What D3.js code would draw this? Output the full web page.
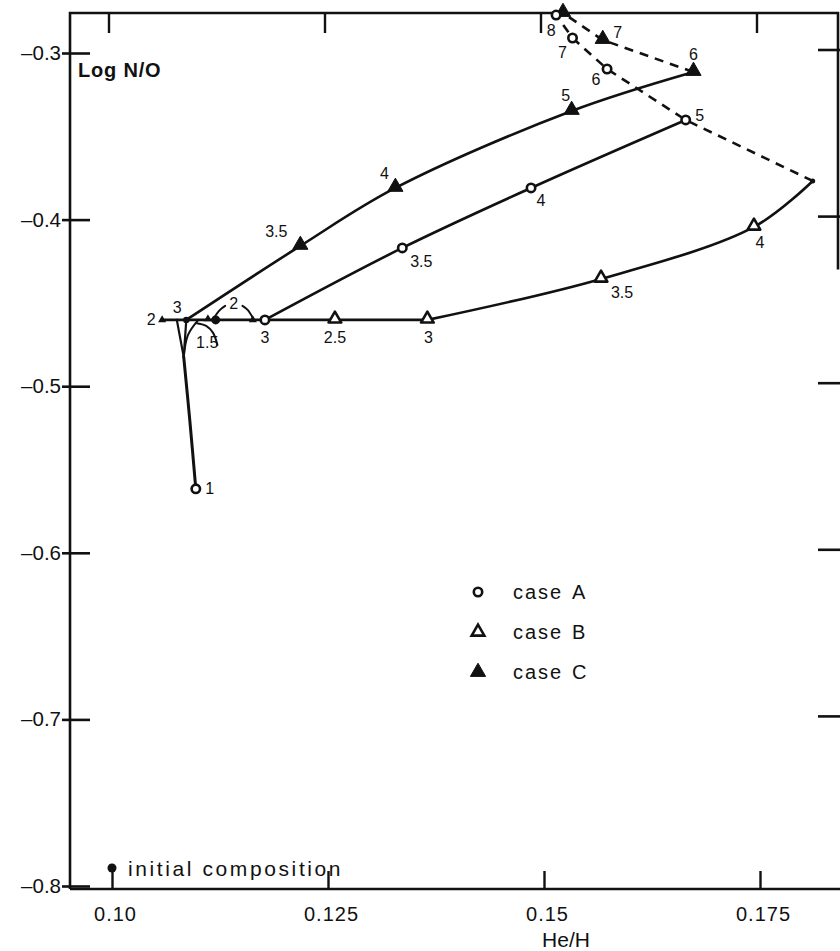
<!DOCTYPE html>
<html>
<head>
<meta charset="utf-8">
<script src="https://cdn.jsdelivr.net/npm/d3@7"></script>
<style>
  body { margin: 0; background: #fff; }
  svg { display: block; font-family: "Liberation Sans", Arial, sans-serif; }
</style>
</head>
<body>
<svg id="chart" width="840" height="951"></svg>
<script>
// tick labels
const xTicks = [0.10, 0.125, 0.15, 0.175];
const xTickLabels = ["0.10", "0.125", "0.15", "0.175"];
const yTicks = [-0.3, -0.4, -0.5, -0.6, -0.7, -0.8];

// [mass label, He/H, log N/O]
const caseA = [["3", 0.1177, -0.4602], ["3.5", 0.1336, -0.4170], ["4", 0.1485, -0.3810], ["5", 0.1664, -0.3402]];
const caseAExt = [["6", 0.1573, -0.3096], ["7", 0.1533, -0.2910], ["8", 0.1514, -0.2772]];
const caseA1 = ["1", 0.1097, -0.5616];
const caseB = [["2.5", 0.1258, -0.4602], ["3", 0.1365, -0.4602], ["3.5", 0.1566, -0.4356], ["4", 0.1743, -0.4044]];
const caseBEnd = [0.1811, -0.3768];
const caseC = [["3.5", 0.1218, -0.4158], ["4", 0.1328, -0.3810], ["5", 0.1532, -0.3348], ["6", 0.1673, -0.3114]];
const caseCExt = [["7", 0.1568, -0.2922], ["8", 0.1522, -0.2760]];
const junction = [0.1086, -0.4602];
const mass2Points = [[0.1058, -0.4602], [0.1111, -0.4596], [0.1163, -0.4602]];
const initialComp = [0.1120, -0.4602];

// tracks near the origin of the curves
const stemA = [[0.1097, -0.5616], [0.1090, -0.5202], [0.1083, -0.4824]];
const vLeft = [[0.1083, -0.4824], [0.1075, -0.4602]];
const vMid = [[0.1083, -0.4824], [0.1086, -0.4602]];
const vRight = [[0.1083, -0.4824], [0.1088, -0.4692], [0.1100, -0.4602]];
const arc15 = [[0.1097, -0.4620], [0.1109, -0.4638], [0.1117, -0.4680], [0.1122, -0.4752]];
const arc2Left = [[0.1118, -0.4590], [0.1125, -0.4542], [0.1131, -0.4518]];
const arc2Right = [[0.1151, -0.4518], [0.1157, -0.4542], [0.1163, -0.4590]];

const legendItems = ["A", "B", "C"];

const svg = d3.select("#chart");
const x = d3.scaleLinear().domain([0.10, 0.175]).range([112, 760]);
const y = d3.scaleLinear().domain([-0.3, -0.8]).range([53, 886]);

const xLeft = x.invert(70), xRight = x.invert(838);
const yTop = y.invert(13), yBottom = y.invert(889);

const ink = "#111";

// frame
const frame = svg.append("g").attr("stroke", ink).attr("stroke-width", 2.6).attr("fill", "none");
frame.append("path").attr("d", `M${x(xLeft)},${y(yBottom)}V${y(yTop)}H${x(xRight)}V${y(-0.43)}`);
frame.append("line").attr("x1", x(xLeft)).attr("x2", 840).attr("y1", y(yBottom)).attr("y2", y(yBottom));

// left axis
svg.append("g")
  .attr("transform", `translate(${x(xLeft)},0)`)
  .call(d3.axisLeft(y).tickValues(yTicks).tickSize(0).tickPadding(9)
    .tickFormat(d => "\u2013" + Math.abs(d).toFixed(1)))
  .call(g => g.select(".domain").remove())
  .call(g => g.selectAll(".tick line").attr("x1", -8).attr("x2", 20)
    .attr("stroke", ink).attr("stroke-width", 2.6))
  .call(g => g.selectAll(".tick text").attr("font-size", 20.5).attr("fill", ink)
    .attr("font-family", "Liberation Sans, Arial, sans-serif"));

// right ticks
svg.append("g").selectAll("line").data(yTicks.slice(0, 5)).join("line")
  .attr("x1", 818).attr("x2", 840)
  .attr("y1", d => y(d) - 3).attr("y2", d => y(d) - 3)
  .attr("stroke", ink).attr("stroke-width", 2.6);

// bottom axis
svg.append("g")
  .attr("transform", `translate(0,${y(yBottom)})`)
  .call(d3.axisBottom(x).tickValues(xTicks).tickSize(0).tickPadding(18)
    .tickFormat((d, i) => xTickLabels[i]))
  .call(g => g.select(".domain").remove())
  .call(g => g.selectAll(".tick line").attr("y2", -18).attr("stroke", ink).attr("stroke-width", 2.4))
  .call(g => g.selectAll(".tick text").attr("font-size", 20).attr("fill", ink)
    .attr("dx", 3).attr("letter-spacing", 1).attr("font-family", "Liberation Sans, Arial, sans-serif"));

// top ticks
svg.append("g").selectAll("line").data(xTicks).join("line")
  .attr("x1", d => x(d) - 3).attr("x2", d => x(d) - 3)
  .attr("y1", y(yTop)).attr("y2", y(yTop) + 20)
  .attr("stroke", ink).attr("stroke-width", 2.4);

// axis titles
svg.append("text").attr("x", 78).attr("y", 77).attr("font-size", 20).attr("font-weight", "bold")
  .attr("fill", ink).attr("letter-spacing", 0.8).text("Log N/O");
svg.append("text").attr("x", 566).attr("y", 947).attr("text-anchor", "middle")
  .attr("font-size", 21).attr("fill", ink).text("He/H");

// curves
const smooth = d3.line().x(d => x(d[0])).y(d => y(d[1])).curve(d3.curveCatmullRom.alpha(0.5));
const straight = d3.line().x(d => x(d[0])).y(d => y(d[1]));
const pts = arr => arr.map(d => [d[1], d[2]]);

const curves = svg.append("g").attr("fill", "none").attr("stroke", ink)
  .attr("stroke-width", 2.6).attr("stroke-linejoin", "round").attr("stroke-linecap", "round");

curves.append("path").attr("d", smooth([junction, ...pts(caseC)]));
curves.append("path").attr("d", smooth(pts(caseA)));
curves.append("path").attr("d", straight([mass2Points[0], ...pts(caseB.slice(0, 2))]));
curves.append("path").attr("d", smooth([...pts(caseB.slice(1)), caseBEnd]));
curves.append("path").attr("d", smooth(stemA)).attr("stroke-width", 3);
[vLeft, vMid].forEach(t => curves.append("path").attr("d", straight(t)).attr("stroke-width", 2.2));
curves.append("path").attr("d", smooth(vRight)).attr("stroke-width", 2);
[arc15, arc2Left, arc2Right].forEach(t => curves.append("path").attr("d", smooth(t)).attr("stroke-width", 2));

// dashed continuations
const dashed = svg.append("g").attr("fill", "none").attr("stroke", ink)
  .attr("stroke-width", 2.6).attr("stroke-dasharray", "9,7");
dashed.append("path").attr("d", straight([caseBEnd, [caseA[3][1], caseA[3][2]], ...pts(caseAExt)]));
dashed.append("path").attr("d", straight([[caseC[3][1], caseC[3][2]], ...pts(caseCExt)]));

// markers
const triFilled = d3.symbol().type(d3.symbolTriangle).size(100);
const triOpen = d3.symbol().type(d3.symbolTriangle).size(70);
const triSmall = d3.symbol().type(d3.symbolTriangle).size(28);

function circleMark(g, d) {
  g.append("circle").attr("cx", x(d[0])).attr("cy", y(d[1])).attr("r", 4.2)
    .attr("fill", "#fff").attr("stroke", ink).attr("stroke-width", 2.6);
}
function triMark(g, d, filled) {
  g.append("path").attr("d", filled ? triFilled() : triOpen())
    .attr("transform", `translate(${x(d[0])},${y(d[1]) - 1})`)
    .attr("fill", filled ? ink : "#fff").attr("stroke", ink)
    .attr("stroke-width", filled ? 1 : 2.6).attr("stroke-linejoin", "round");
}

const marks = svg.append("g");
[...pts(caseC), ...pts(caseCExt)].forEach(d => triMark(marks, d, true));
pts(caseB).forEach(d => triMark(marks, d, false));
[...pts(caseA), ...pts(caseAExt), [caseA1[1], caseA1[2]]].forEach(d => circleMark(marks, d));
mass2Points.forEach(d => marks.append("path").attr("d", triSmall())
  .attr("transform", `translate(${x(d[0])},${y(d[1])})`).attr("fill", ink));
marks.append("circle").attr("cx", x(caseBEnd[0])).attr("cy", y(caseBEnd[1])).attr("r", 2.5).attr("fill", ink);
marks.append("circle").attr("cx", x(junction[0])).attr("cy", y(junction[1])).attr("r", 3.2).attr("fill", ink);
marks.append("circle").attr("cx", x(initialComp[0])).attr("cy", y(initialComp[1])).attr("r", 4.5).attr("fill", ink);

// mass labels: offsets in px
const labels = svg.append("g").attr("font-size", 16).attr("fill", ink)
  .attr("text-anchor", "middle").attr("dominant-baseline", "central");
function label(text, d, dx, dy) {
  labels.append("text").attr("x", x(d[0]) + dx).attr("y", y(d[1]) + dy).text(text);
}
const offC = [[-24, -14], [-11, -14], [-6, -15], [0, -17]];
caseC.forEach((d, i) => label(d[0], [d[1], d[2]], ...offC[i]));
label(caseCExt[0][0], [caseCExt[0][1], caseCExt[0][2]], 15, -8);
const offA = [[0, 18], [19, 14], [10, 13], [14, -4]];
caseA.forEach((d, i) => label(d[0], [d[1], d[2]], ...offA[i]));
const offAExt = [[-11, 11], [-10, 14], [-5, 15]];
caseAExt.forEach((d, i) => label(d[0], [d[1], d[2]], ...offAExt[i]));
label(caseA1[0], [caseA1[1], caseA1[2]], 14, 0);
const offB = [[0, 18], [1, 18], [21, 14], [6, 16]];
caseB.forEach((d, i) => label(d[0], [d[1], d[2]], ...offB[i]));
label("2", mass2Points[0], -11, 0);
label("3", junction, -9, -12);
label("2", [0.1141, -0.4518], 0, -2);
label("1.5", [0.1109, -0.4752], 1, -2);

// legend
const legend = svg.append("g").attr("fill", ink);
legendItems.forEach((c, i) => {
  const ly = 592 + i * 40;
  if (i === 0) {
    legend.append("circle").attr("cx", 478).attr("cy", ly).attr("r", 4.2)
      .attr("fill", "#fff").attr("stroke", ink).attr("stroke-width", 2.6);
  } else {
    legend.append("path").attr("d", i === 2 ? triFilled() : triOpen())
      .attr("transform", `translate(478,${ly})`)
      .attr("fill", i === 2 ? ink : "#fff").attr("stroke", ink).attr("stroke-width", i === 2 ? 1 : 2.6);
  }
  legend.append("text").attr("x", 513).attr("y", ly).attr("dominant-baseline", "central")
    .attr("font-size", 20).attr("letter-spacing", 2).text("case");
  legend.append("text").attr("x", 572).attr("y", ly).attr("dominant-baseline", "central")
    .attr("font-size", 20).text(c);
});
legend.append("circle").attr("cx", 112).attr("cy", 868).attr("r", 4.5);
legend.append("text").attr("x", 128).attr("y", 868).attr("dominant-baseline", "central")
  .attr("font-size", 21).attr("letter-spacing", 2.6).text("initial composition");
</script>
</body>
</html>
